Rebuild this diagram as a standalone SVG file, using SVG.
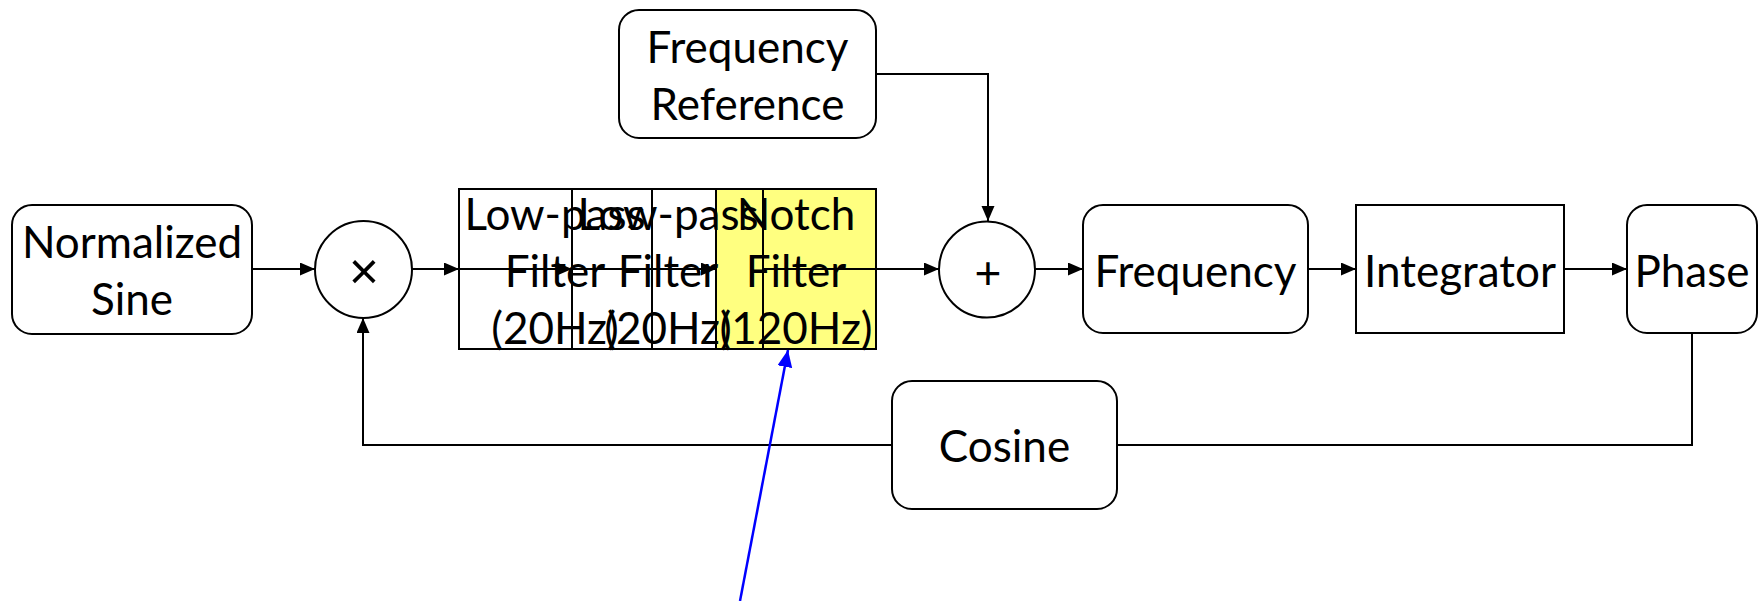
<svg xmlns="http://www.w3.org/2000/svg" width="1762" height="601" viewBox="0 0 1762 601">
<style>
.box{fill:#ffffff;stroke:#000000;stroke-width:2}
.open{fill:none;stroke:#000000;stroke-width:2}
.hl{fill:#ffff80;stroke:#000000;stroke-width:2}
.t{font-family:Lato,"Liberation Sans",sans-serif;font-size:44px;fill:#000000;text-anchor:middle}
.s{font-family:"Liberation Sans",Arial,sans-serif;fill:#000000;text-anchor:middle}
.c{fill:none;stroke:#000000;stroke-width:2}
.b{fill:none;stroke:#0000ff;stroke-width:2.5}
</style>
<defs>
<marker id="ah" markerUnits="userSpaceOnUse" markerWidth="16" markerHeight="14" refX="15" refY="6.5" orient="auto">
<path d="M0,0 L15,6.5 L0,13 z" fill="#000000"/>
</marker>
<marker id="bh" markerUnits="userSpaceOnUse" markerWidth="18" markerHeight="16" refX="17" refY="7.5" orient="auto">
<path d="M0,0 L17,7.5 L0,15 z" fill="#0000ff"/>
</marker>
</defs>
<g id="normalized-sine">
<rect class="box" x="12" y="205" width="240" height="129" rx="20"/>
<text class="t" x="132" y="258">Normalized</text>
<text class="t" x="132" y="315">Sine</text>
</g>
<g id="multiplier">
<circle class="box" cx="363.5" cy="269.5" r="48.5"/>
<text class="s" x="364" y="289" font-size="52">×</text>
</g>
<g id="notch-filter">
<rect class="hl" x="716" y="189" width="160" height="160"/>
<text class="t" x="796" y="230">Notch</text>
<text class="t" x="796" y="287">Filter</text>
<text class="t" x="796" y="344">(120Hz)</text>
</g>
<g id="lowpass-1">
<rect class="open" x="459" y="189" width="193" height="160"/>
<text class="t" x="555" y="230">Low-pass</text>
<text class="t" x="555" y="287">Filter</text>
<text class="t" x="555" y="344">(20Hz)</text>
</g>
<g id="lowpass-2">
<rect class="open" x="572" y="189" width="191" height="160"/>
<text class="t" x="668" y="230">Low-pass</text>
<text class="t" x="668" y="287">Filter</text>
<text class="t" x="668" y="344">(20Hz)</text>
</g>
<g id="frequency-reference">
<rect class="box" x="619" y="10" width="257" height="128" rx="20"/>
<text class="t" x="747.5" y="63">Frequency</text>
<text class="t" x="747.5" y="120">Reference</text>
</g>
<g id="adder">
<circle class="box" cx="987" cy="269.5" r="48"/>
<text class="s" x="988" y="289" font-size="46">+</text>
</g>
<g id="frequency">
<rect class="box" x="1083" y="205" width="225" height="128" rx="20"/>
<text class="t" x="1195.5" y="287">Frequency</text>
</g>
<g id="integrator">
<rect class="box" x="1356" y="205" width="208" height="128"/>
<text class="t" x="1460" y="287">Integrator</text>
</g>
<g id="phase">
<rect class="box" x="1627" y="205" width="130" height="128" rx="20"/>
<text class="t" x="1692" y="287">Phase</text>
</g>
<g id="cosine">
<rect class="box" x="892" y="381" width="225" height="128" rx="20"/>
<text class="t" x="1004.5" y="462">Cosine</text>
</g>
<g id="connectors">
<line class="c" x1="252" y1="269" x2="315" y2="269" marker-end="url(#ah)"/>
<line class="c" x1="412" y1="269" x2="459" y2="269" marker-end="url(#ah)"/>
<line class="c" x1="459" y1="269" x2="572" y2="269" marker-end="url(#ah)"/>
<line class="c" x1="572" y1="269" x2="716" y2="269" marker-end="url(#ah)"/>
<line class="c" x1="763" y1="269" x2="939" y2="269" marker-end="url(#ah)"/>
<polyline class="c" points="876,74 988,74 988,221" marker-end="url(#ah)"/>
<line class="c" x1="1035" y1="269" x2="1083" y2="269" marker-end="url(#ah)"/>
<line class="c" x1="1308" y1="269" x2="1356" y2="269" marker-end="url(#ah)"/>
<line class="c" x1="1564" y1="269" x2="1627" y2="269" marker-end="url(#ah)"/>
<polyline class="c" points="1692,333 1692,445 1117,445"/>
<polyline class="c" points="892,445 363,445 363,318" marker-end="url(#ah)"/>
<line class="b" x1="740" y1="601" x2="788" y2="350" marker-end="url(#bh)"/>
</g>
</svg>
